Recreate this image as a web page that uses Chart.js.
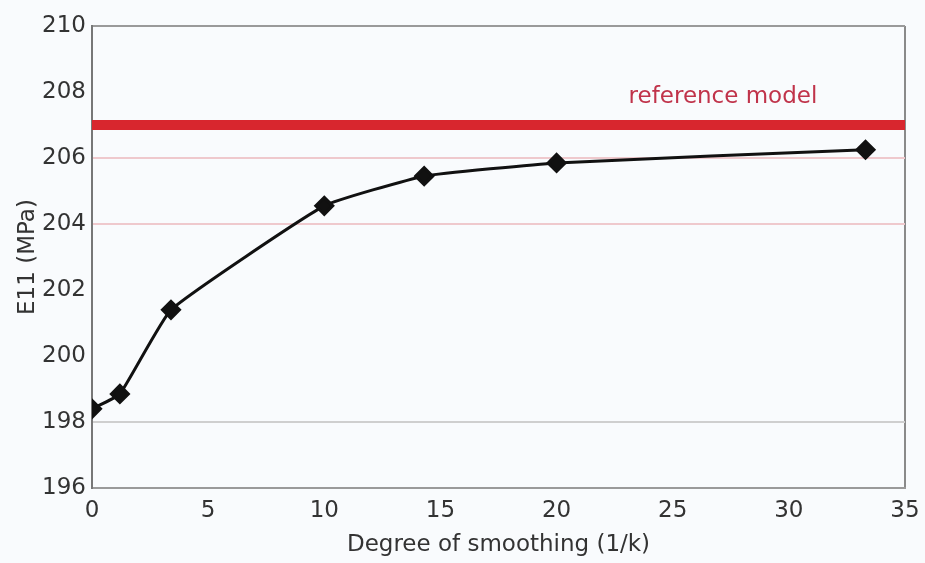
<!DOCTYPE html>
<html>
<head>
<meta charset="utf-8">
<script src="https://cdn.jsdelivr.net/npm/chart.js@4"></script>
<style>
  body { margin: 0; background: #f9fbfd; }
  #wrap { width: 925px; height: 563px; }
</style>
</head>
<body>
<div id="wrap"><canvas id="myChart" width="925" height="563"></canvas></div>
<script>
// data
const smoothing = [0, 1.2, 3.4, 10, 14.3, 20, 33.3];
const e11 = [198.4, 198.85, 201.4, 204.55, 205.45, 205.85, 206.25];
const refValue = 207;
const refLabel = 'reference model';
const xTicks = [0, 5, 10, 15, 20, 25, 30, 35];
const yTicks = [196, 198, 200, 202, 204, 206, 208, 210];

const font = 'DejaVu Sans, Liberation Sans, Arial, sans-serif';

// gridline colours per y value (only some lines show in the original)
function yGrid(v) {
    if (v == 210) return '#9a9a9a';
    if (v == 206 || v == 204) return '#efc9cd';
    if (v == 198) return '#cfcfcf';
    return 'rgba(0,0,0,0)';
}

const refText = {
    id: 'refText',
    afterDatasetsDraw(chart) {
        const ctx = chart.ctx;
        const x = chart.scales.x.getPixelForValue(23.1);
        const y = chart.scales.y.getPixelForValue(207.85);
        ctx.save();
        ctx.font = '23px ' + font;
        ctx.fillStyle = '#c0334a';
        ctx.textBaseline = 'middle';
        ctx.fillText(refLabel, x, y);
        ctx.restore();
    }
};

var ctx = document.getElementById('myChart');
var myChart = new Chart(ctx, {
    type: 'scatter',
    data: {
        datasets: [{
            label: refLabel,
            data: [{x: 0, y: refValue}, {x: 35, y: refValue}],
            showLine: true,
            borderColor: '#d8262e',
            borderWidth: 10,
            pointRadius: 0,
            order: 2
        }, {
            label: 'E11',
            data: smoothing.map((s, i) => ({x: s, y: e11[i]})),
            showLine: true,
            tension: 0.12,
            borderColor: '#111',
            backgroundColor: '#111',
            borderWidth: 3,
            pointStyle: 'rectRot',
            pointRadius: 8.5,
            pointHoverRadius: 8.5,
            order: 1
        }]
    },
    options: {
        responsive: false,
        animation: false,
        layout: { padding: { top: 26, right: 20, left: 0, bottom: 0 } },
        plugins: { legend: { display: false }, tooltip: { enabled: false } },
        scales: {
            x: {
                type: 'linear',
                min: 0, max: 35,
                afterBuildTicks: (s) => { s.ticks = xTicks.map(v => ({value: v})); },
                afterFit: (s) => { s.height = 75; s.paddingRight = 0; s.paddingLeft = 0; },
                grid: {
                    drawTicks: false,
                    color: (c) => c.tick && c.tick.value == 35 ? '#8a8a8a' : 'rgba(0,0,0,0)',
                    lineWidth: 2
                },
                border: { color: '#9a9a9a', width: 2 },
                ticks: { color: '#333', font: { family: font, size: 23 }, padding: 9 },
                title: { display: true, text: 'Degree of smoothing (1/k)', color: '#333', font: { family: font, size: 23 }, padding: { top: 2 } }
            },
            y: {
                min: 196, max: 210,
                afterBuildTicks: (s) => { s.ticks = yTicks.map(v => ({value: v})); },
                afterFit: (s) => { s.width = 92; },
                grid: {
                    drawTicks: false,
                    color: (c) => yGrid(c.tick ? c.tick.value : 0),
                    lineWidth: 2
                },
                border: { color: '#777', width: 2 },
                ticks: { color: '#333', font: { family: font, size: 23 }, padding: 6 },
                title: { display: true, text: 'E11 (MPa)', color: '#333', font: { family: font, size: 23 }, padding: { top: 14, bottom: 4 } }
            }
        }
    },
    plugins: [refText]
});
</script>
</body>
</html>
